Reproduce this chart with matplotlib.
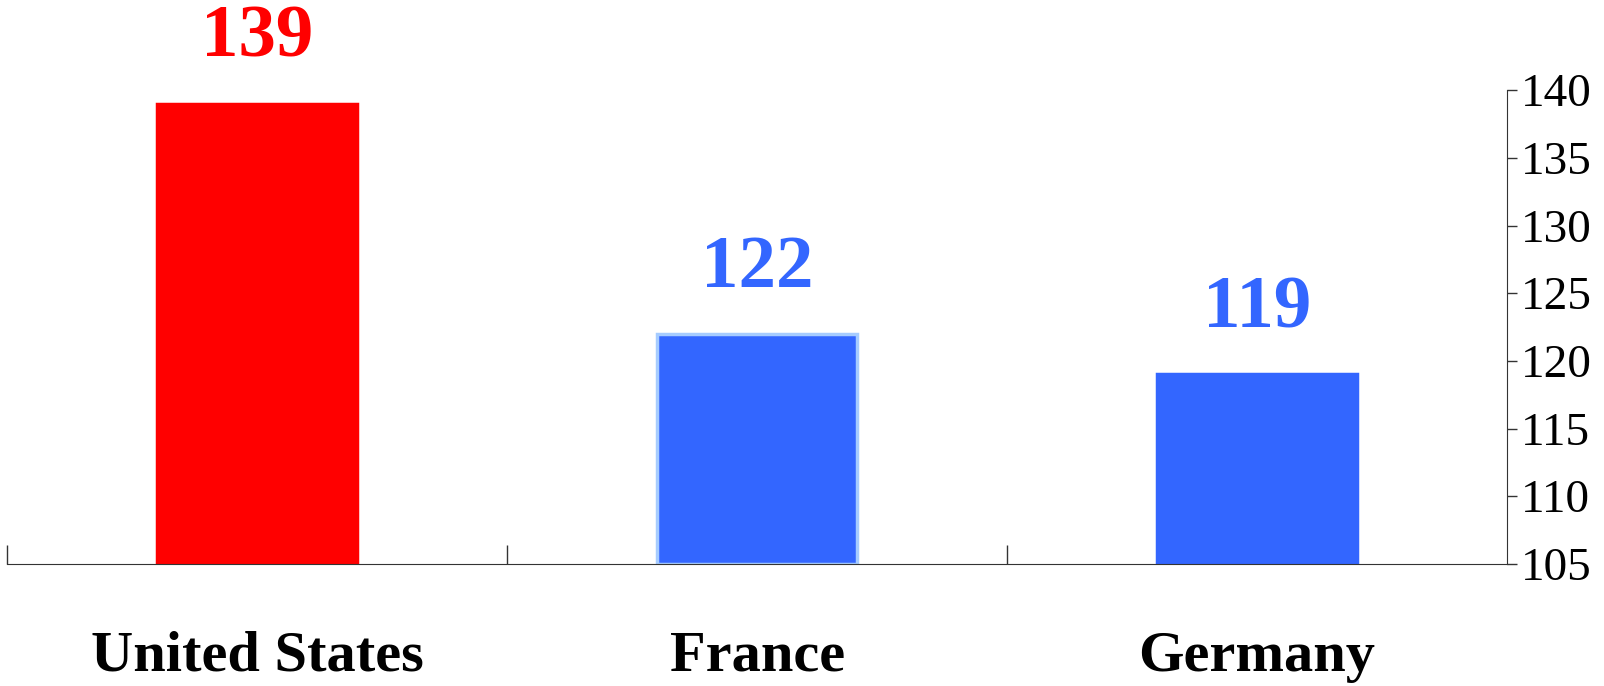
import matplotlib.pyplot as plt
import numpy as np

countries = ["United States", "France", "Germany"]
values = [139, 122, 119]
bar_colors = ["#FF0000", "#3366FF", "#3366FF"]
edge_colors = ["#FF0000", "#A6CCFF", "#3366FF"]
label_colors = ["#FF0000", "#3366FF", "#3366FF"]
y_ticks = [105, 110, 115, 120, 125, 130, 135, 140]

plt.rcParams['font.family'] = ['Liberation Serif', 'DejaVu Serif']

fig = plt.figure(figsize=(16.04, 6.86), dpi=100)
ax = fig.add_axes([0.0045, 0.178, 0.935, 0.6905])

x = np.arange(len(countries))
ax.bar(x, [v - 105 for v in values], bottom=105, width=0.4,
       color=bar_colors, edgecolor=edge_colors, linewidth=2.5, zorder=2)

for xi, v, c in zip(x, values, label_colors):
    ax.annotate(str(v), (xi, v), xytext=(0, 34), textcoords='offset points',
                ha='center', va='baseline', fontsize=54, fontweight='bold',
                color=c, annotation_clip=False)

ax.set_xlim(-0.5, 2.5)
ax.set_ylim(105, 140)

ax.yaxis.tick_right()
ax.set_yticks(y_ticks)
ax.set_yticklabels([str(t) for t in y_ticks], fontsize=34)
ax.tick_params(axis='y', direction='out', length=7, width=1, pad=3,
               color='#333333', labelcolor='black')

# boundaries as major ticks, names on minor ticks
ax.set_xticks([-0.5, 0.5, 1.5])
ax.set_xticklabels([])
ax.tick_params(axis='x', which='major', direction='in', length=14, width=1, color='#333333')
ax.set_xticks(x, minor=True)
ax.set_xticklabels(countries, minor=True, fontsize=42, fontweight='bold')
ax.tick_params(axis='x', which='minor', length=0, pad=48)

for s in ['left', 'top']:
    ax.spines[s].set_visible(False)
ax.spines['bottom'].set_color('#333333')
ax.spines['right'].set_color('#333333')

fig.savefig("out.png", dpi=100, facecolor='white')
